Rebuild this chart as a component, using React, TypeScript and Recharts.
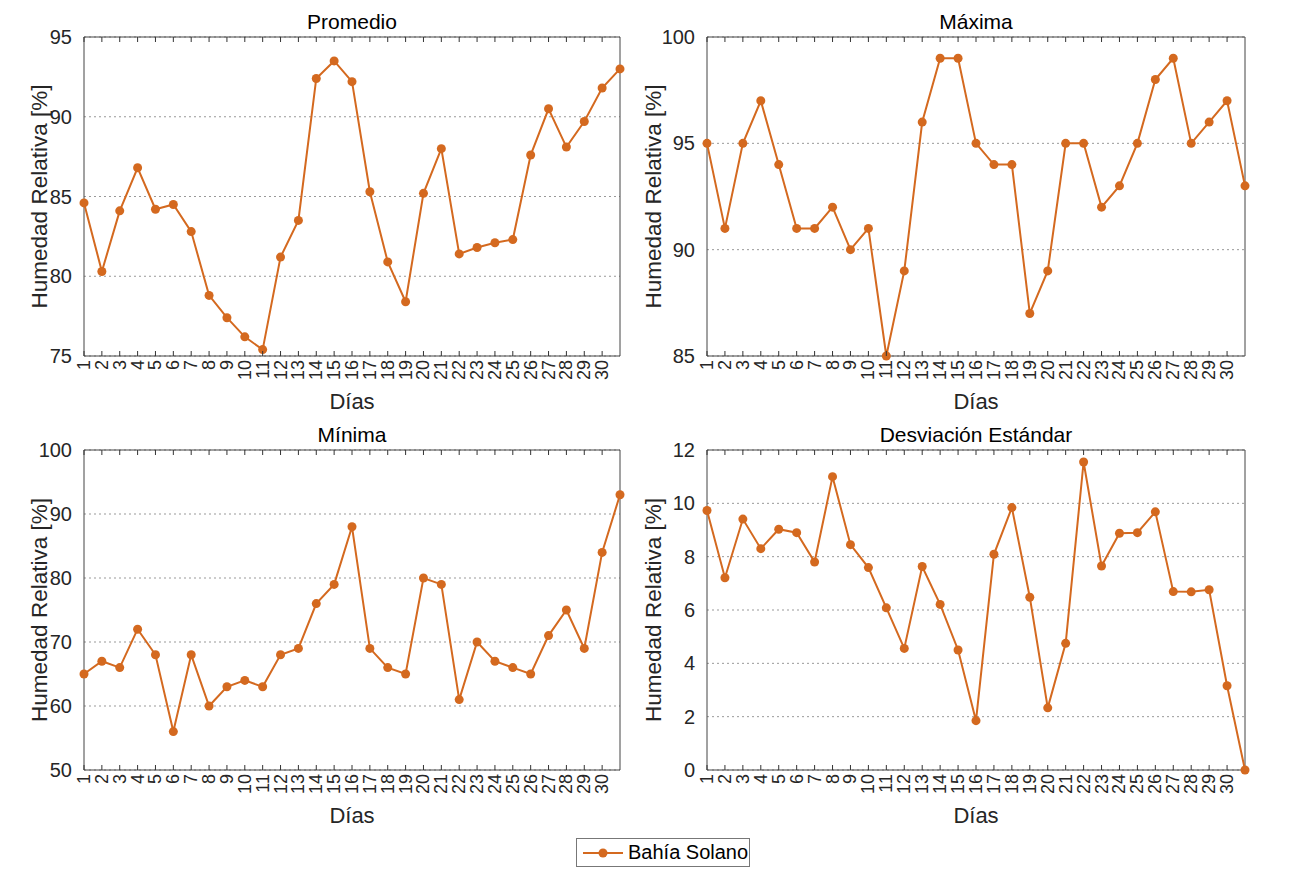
import React from "react";
import {
  LineChart,
  Line,
  XAxis,
  YAxis,
  CartesianGrid,
  ReferenceArea,
} from "recharts";

// dias del mes y etiquetas del eje x
const dias = [1, 2, 3, 4, 5, 6, 7, 8, 9, 10, 11, 12, 13, 14, 15, 16, 17, 18, 19, 20, 21, 22, 23, 24, 25, 26, 27, 28, 29, 30, 31];
const diasEtiquetas = [1, 2, 3, 4, 5, 6, 7, 8, 9, 10, 11, 12, 13, 14, 15, 16, 17, 18, 19, 20, 21, 22, 23, 24, 25, 26, 27, 28, 29, 30];

// humedad relativa [%] - Bahía Solano
const promedio = [84.6, 80.3, 84.1, 86.8, 84.2, 84.5, 82.8, 78.8, 77.4, 76.2, 75.4, 81.2, 83.5, 92.4, 93.5, 92.2, 85.3, 80.9, 78.4, 85.2, 88.0, 81.4, 81.8, 82.1, 82.3, 87.6, 90.5, 88.1, 89.7, 91.8, 93.0];
const maxima = [95, 91, 95, 97, 94, 91, 91, 92, 90, 91, 85, 89, 96, 99, 99, 95, 94, 94, 87, 89, 95, 95, 92, 93, 95, 98, 99, 95, 96, 97, 93];
const minima = [65, 67, 66, 72, 68, 56, 68, 60, 63, 64, 63, 68, 69, 76, 79, 88, 69, 66, 65, 80, 79, 61, 70, 67, 66, 65, 71, 75, 69, 84, 93];
const desviacion = [9.73, 7.21, 9.41, 8.3, 9.03, 8.9, 7.8, 11.0, 8.45, 7.59, 6.08, 4.56, 7.63, 6.21, 4.5, 1.85, 8.09, 9.84, 6.48, 2.33, 4.75, 11.55, 7.65, 8.88, 8.9, 9.68, 6.69, 6.68, 6.76, 3.16, 0];

const ticksPromedio = [75, 80, 85, 90, 95];
const ticksMaxima = [85, 90, 95, 100];
const ticksMinima = [50, 60, 70, 80, 90, 100];
const ticksDesv = [0, 2, 4, 6, 8, 10, 12];

const COLOR = "#D4691F";
const FONT = "'Liberation Sans', Arial, sans-serif";
const TXT = "#262626";

function Panel({ title, values, ticks, divL, divT, divW, divH, plotL, plotT, plotR, plotB, labelX }: any) {
  const data = dias.map((d, i) => ({ dia: d, valor: values[i] }));
  const top = plotT - divT;
  const xAxisH = 50;
  const margin = {
    top: top,
    left: 0,
    right: divL + divW - plotR,
    bottom: divT + divH - plotB - xAxisH,
  };
  const yLabelX = labelX - divL;
  const yMid = (plotT + plotB) / 2 - divT;

  const renderXTick = (props: any) => {
    const { x, y, payload } = props;
    return (
      <g>
        <line x1={x} x2={x} y1={y} y2={y - 5} stroke="#333" />
        <line x1={x} x2={x} y1={top} y2={top + 5} stroke="#333" />
        <text
          x={x}
          y={y + 4}
          transform={`rotate(-90 ${x} ${y + 4})`}
          textAnchor="end"
          dominantBaseline="central"
          fontSize={18}
          fill={TXT}
          fontFamily={FONT}
        >
          {payload.value}
        </text>
      </g>
    );
  };

  return (
    <div style={{ position: "absolute", left: divL, top: divT, width: divW, height: divH }}>
      <div
        style={{
          position: "absolute",
          left: plotL - divL,
          width: plotR - plotL,
          top: plotT - divT - 27,
          textAlign: "center",
          fontFamily: FONT,
          fontSize: 21,
          color: "#000",
          lineHeight: "24px",
        }}
      >
        {title}
      </div>
      <LineChart width={divW} height={divH} data={data} margin={margin} style={{ fontFamily: FONT }}>
        <CartesianGrid vertical={false} stroke="#999" strokeDasharray="2 3" />
        <XAxis
          dataKey="dia"
          type="number"
          domain={[1, 31]}
          ticks={diasEtiquetas}
          interval={0}
          height={xAxisH}
          tickSize={0}
          tickMargin={0}
          tickLine={false}
          axisLine={false}
          tick={renderXTick}
          label={{
            content: (p: any) => {
              const vb = p.viewBox;
              return (
                <text
                  x={vb.x + vb.width / 2}
                  y={plotB - divT + 45}
                  textAnchor="middle"
                  dominantBaseline="central"
                  fontSize={22}
                  fill={TXT}
                  fontFamily={FONT}
                >
                  Días
                </text>
              );
            },
          }}
        />
        <YAxis
          type="number"
          domain={[ticks[0], ticks[ticks.length - 1]]}
          ticks={ticks}
          interval={0}
          width={plotL - divL}
          tickLine={false}
          axisLine={false}
          tickMargin={6}
          tick={{ fontSize: 20, fill: TXT, fontFamily: FONT }}
          label={{
            content: () => (
              <text
                x={yLabelX}
                y={yMid}
                transform={`rotate(-90 ${yLabelX} ${yMid})`}
                textAnchor="middle"
                dominantBaseline="central"
                fontSize={22.5}
                fill={TXT}
                fontFamily={FONT}
              >
                Humedad Relativa [%]
              </text>
            ),
          }}
        />
        <ReferenceArea
          x1={1}
          x2={31}
          y1={ticks[0]}
          y2={ticks[ticks.length - 1]}
          fill="none"
          stroke="#444"
          strokeWidth={1}
          fillOpacity={0}
        />
        <Line
          type="linear"
          dataKey="valor"
          stroke={COLOR}
          strokeWidth={2}
          dot={{ r: 4.5, fill: COLOR, stroke: COLOR, strokeWidth: 0 }}
          activeDot={false}
          isAnimationActive={false}
        />
      </LineChart>
    </div>
  );
}

export default function App() {
  return (
    <div style={{ position: "absolute", left: 0, top: 0, width: 1306, height: 871, background: "#fff" }}>
      <Panel title="Promedio" values={promedio} ticks={ticksPromedio}
        divL={0} divT={0} divW={640} divH={420}
        plotL={84} plotT={37} plotR={620} plotB={356} labelX={39} />
      <Panel title="Máxima" values={maxima} ticks={ticksMaxima}
        divL={640} divT={0} divW={666} divH={420}
        plotL={707} plotT={37} plotR={1245} plotB={356} labelX={653} />
      <Panel title="Mínima" values={minima} ticks={ticksMinima}
        divL={0} divT={413} divW={640} divH={420}
        plotL={84} plotT={450} plotR={620} plotB={770} labelX={39} />
      <Panel title="Desviación Estándar" values={desviacion} ticks={ticksDesv}
        divL={640} divT={413} divW={666} divH={420}
        plotL={707} plotT={450} plotR={1245} plotB={770} labelX={653} />
      <div
        style={{
          position: "absolute",
          left: 576,
          top: 838,
          width: 174,
          height: 29,
          border: "1px solid #777",
          background: "#fff",
          display: "flex",
          alignItems: "center",
          fontFamily: FONT,
          fontSize: 20,
          color: "#000",
          boxSizing: "border-box",
        }}
      >
        <svg width={46} height={20} style={{ marginLeft: 4 }}>
          <line x1={2} x2={42} y1={10} y2={10} stroke={COLOR} strokeWidth={2} />
          <circle cx={22} cy={10} r={4.5} fill={COLOR} />
        </svg>
        <span style={{ marginLeft: 1 }}>Bahía Solano</span>
      </div>
    </div>
  );
}
